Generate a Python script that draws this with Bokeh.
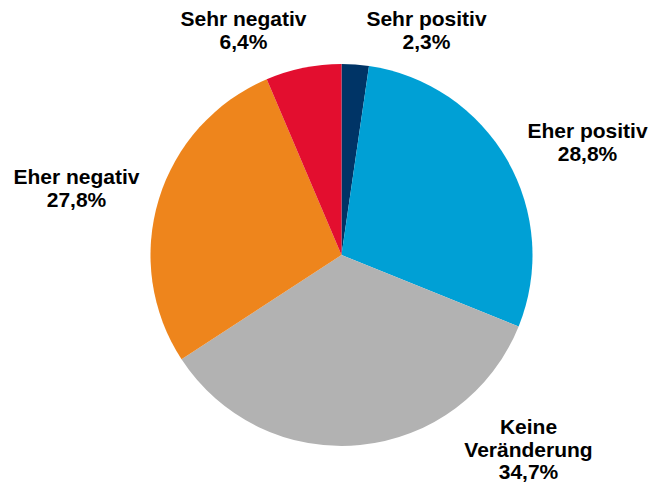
import math
from bokeh.plotting import figure
from bokeh.models import Range1d
from bokeh.embed import file_html
from bokeh.resources import INLINE
from bokeh.core.properties import value

categories = ["Sehr positiv", "Eher positiv", "Keine Veränderung", "Eher negativ", "Sehr negativ"]
shares = [2.3, 28.8, 34.7, 27.8, 6.4]
colors = ["#003466", "#00A0D5", "#B2B2B2", "#EE851C", "#E30E2F"]
label_lines = [["Sehr positiv", "2,3%"], ["Eher positiv", "28,8%"],
               ["Keine", "Veränderung", "34,7%"], ["Eher negativ", "27,8%"],
               ["Sehr negativ", "6,4%"]]

W, H = 650, 487
p = figure(width=W, height=H, output_backend="svg", toolbar_location=None,
           x_range=Range1d(0, W), y_range=Range1d(0, H), min_border=0)
p.axis.visible = False
p.grid.visible = False
p.outline_line_color = None
p.background_fill_color = "white"

def sx(x):
    return x
def sy(y):
    return H - y

cx, cy, r = sx(341), sy(254.5), 191
total = sum(shares)
start = math.pi / 2
starts, ends = [], []
for s in shares:
    a = s / total * 2 * math.pi
    end = start - a
    starts.append(end)
    ends.append(start)
    start = end

p.wedge(x=[cx] * len(shares), y=[cy] * len(shares), radius=r,
        start_angle=starts, end_angle=ends, fill_color=colors, line_color=None)

# label positions (screen coords: center x, first-line center y)
label_pos = [(426, 18), (587, 130), (528, 426), (76, 176), (243, 18)]
lx, ly, lt = [], [], []
for (x, y), lines in zip(label_pos, label_lines):
    for i, t in enumerate(lines):
        lx.append(sx(x))
        ly.append(sy(y + i * 22.5))
        lt.append(t)
p.text(x=lx, y=ly, text=lt, text_font=value("Liberation Sans"), text_font_style="bold",
       text_font_size="21px", text_align="center", text_baseline="middle", text_color="black")

open("out.html", "w").write(file_html(p, INLINE))
